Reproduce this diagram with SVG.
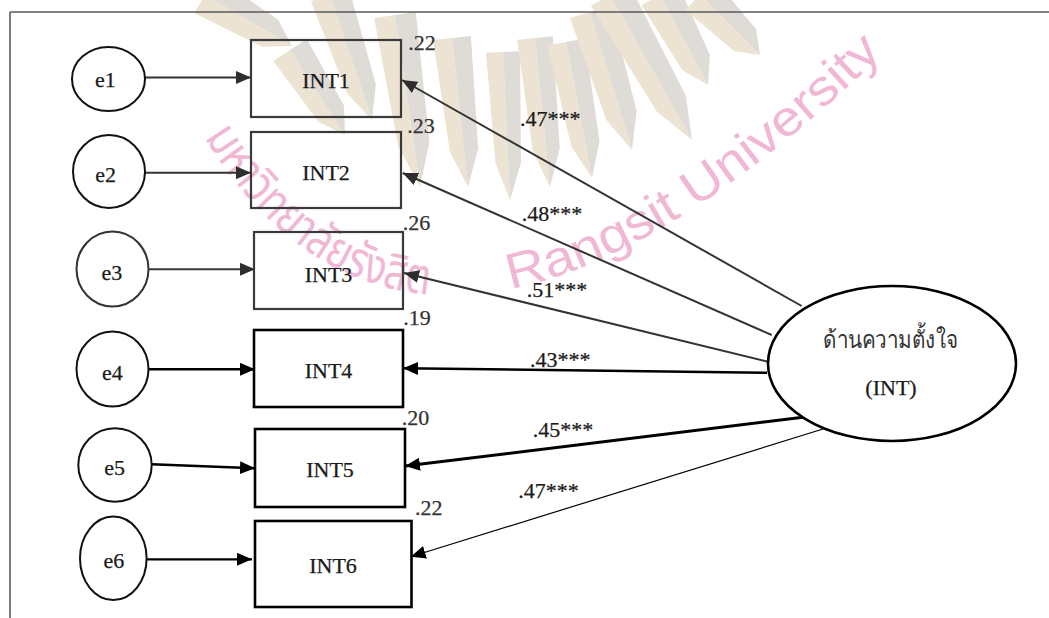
<svg xmlns="http://www.w3.org/2000/svg" width="1049" height="618" viewBox="0 0 1049 618">
  <defs>
    <style>
      .tx { font-family: "Liberation Serif", "Times New Roman", "DejaVu Serif", serif; }
      .lbl { font-size: 22px; fill: #1a1a1a; stroke: #1a1a1a; stroke-width: 0.25; }
      .est { font-size: 22px; fill: #333; stroke: #333; stroke-width: 0.25; }
      .box-g { fill: none; stroke: #3a3a3a; stroke-width: 2.2; }
      .box-k { fill: none; stroke: #000; stroke-width: 2.6; }
      .err { fill: #fff; stroke: #111; stroke-width: 2; }
      .wm-a { fill: #ece3d2; }
      .wm-b { fill: #dfdcd7; }
      .wm-t { font-family: "Liberation Sans", "Noto Sans Thai", "Noto Sans", sans-serif; font-size: 50px; fill: #f0b8d4; }
    </style>
    <marker id="ahGray" viewBox="0 0 15 13" markerUnits="userSpaceOnUse" markerWidth="15" markerHeight="13" refX="15" refY="6.5" orient="auto">
      <path d="M0,0 L15,6.5 L0,13 Z" fill="#2e2e2e"/>
    </marker>
    <marker id="ahBlack" viewBox="0 0 15 13" markerUnits="userSpaceOnUse" markerWidth="15" markerHeight="13" refX="15" refY="6.5" orient="auto">
      <path d="M0,0 L15,6.5 L0,13 Z" fill="#000"/>
    </marker>
    <path id="wmArc" d="M 195 122 C 330 357, 560 377, 905 32"/>
  </defs>

  <rect width="1049" height="618" fill="#fff"/>

  <!-- background emblem: bevelled sun rays and curved name -->
  <g id="watermark">
    <polygon class="wm-a" points="194.4,13.1 205,-5 292,46 262.3,46.8"/><polygon class="wm-b" points="205,-5 215.6,-23.1 278.2,19.7 292,46"/>
    <polygon class="wm-a" points="273.2,60.9 290,50 345,135 318.7,121.9"/><polygon class="wm-b" points="290,50 306.8,39.1 343.9,105.6 345,135"/>
    <polygon class="wm-a" points="311,1.4 330,-5 372,120 347.3,93.6"/><polygon class="wm-b" points="330,-5 349,-11.4 375.8,84 372,120"/>
    <polygon class="wm-a" points="374.2,18 395,15 420,187 398.2,146.3"/><polygon class="wm-b" points="395,15 415.8,12 429.4,141.8 420,187"/>
    <polygon class="wm-a" points="433.1,40 452,38 468,187 449.8,151.3"/><polygon class="wm-b" points="452,38 470.9,36 478.2,148.3 468,187"/>
    <polygon class="wm-a" points="486,52.8 503,52 510,200 495.5,163.6"/><polygon class="wm-b" points="503,52 520,51.2 521,162.4 510,200"/>
    <polygon class="wm-a" points="517.1,39.8 535,38 550,187 532.8,151.1"/><polygon class="wm-b" points="535,38 552.9,36.2 559.7,148.4 550,187"/>
    <polygon class="wm-a" points="547.3,45.6 566,42 592,178 571.5,146.7"/><polygon class="wm-b" points="566,42 584.7,38.4 599.5,141.3 592,178"/>
    <polygon class="wm-a" points="569.9,18.1 590,12 632,150 606.4,120.1"/><polygon class="wm-b" points="590,12 610.1,5.9 636.6,110.9 632,150"/>
    <polygon class="wm-a" points="590.9,5.8 610,-5 692,140 657.2,111.9"/><polygon class="wm-b" points="610,-5 629.1,-15.8 685.8,95.7 692,140"/>
    <polygon class="wm-a" points="641.5,4.9 660,-5 708,85 682.1,69.9"/><polygon class="wm-b" points="660,-5 678.5,-14.9 709.9,55.1 708,85"/>
    <polygon class="wm-a" points="685.2,9.8 700,-5 760,55 733.9,51.1"/><polygon class="wm-b" points="700,-5 714.8,-19.8 756.1,28.9 760,55"/>
    <text class="wm-t"><textPath href="#wmArc" startOffset="18" textLength="285" lengthAdjust="spacingAndGlyphs">มหาวิทยาลัยรังสิต</textPath></text>
    <text class="wm-t"><textPath href="#wmArc" startOffset="385" textLength="446" lengthAdjust="spacingAndGlyphs">Rangsit University</textPath></text>
  </g>

  <!-- page frame -->
  <g id="frame" fill="none" stroke="#5a5a5a" stroke-width="1.6">
    <line x1="10" y1="12" x2="1049" y2="12"/>
    <line x1="10" y1="12" x2="10" y2="618"/>
  </g>

  <!-- paths: errors to indicators, factor to indicators -->
  <g id="connectors" fill="none">
    <line x1="145" y1="77.5" x2="251" y2="77.5" stroke="#333" stroke-width="2" marker-end="url(#ahGray)"/>
    <line x1="145" y1="172.7" x2="251" y2="172.7" stroke="#333" stroke-width="2" marker-end="url(#ahGray)"/>
    <line x1="148.5" y1="269.3" x2="255" y2="269.3" stroke="#3a3a3a" stroke-width="2" marker-end="url(#ahGray)"/>
    <line x1="148.5" y1="369.3" x2="255" y2="369.3" stroke="#000" stroke-width="2.4" marker-end="url(#ahBlack)"/>
    <line x1="151.7" y1="464.3" x2="255" y2="468.3" stroke="#000" stroke-width="2.4" marker-end="url(#ahBlack)"/>
    <line x1="146.7" y1="559.3" x2="252" y2="559.3" stroke="#000" stroke-width="2.2" marker-end="url(#ahBlack)"/>

    <line x1="801.7" y1="306" x2="402" y2="80" stroke="#333" stroke-width="2" marker-end="url(#ahGray)"/>
    <line x1="771.7" y1="335" x2="402.7" y2="173" stroke="#333" stroke-width="2" marker-end="url(#ahGray)"/>
    <line x1="767.7" y1="361.7" x2="404" y2="273" stroke="#333" stroke-width="2" marker-end="url(#ahGray)"/>
    <line x1="767" y1="372.7" x2="403" y2="368.3" stroke="#000" stroke-width="2.5" marker-end="url(#ahBlack)"/>
    <line x1="803" y1="417.3" x2="405" y2="466" stroke="#000" stroke-width="3" marker-end="url(#ahBlack)"/>
    <line x1="823" y1="429" x2="410.7" y2="556.7" stroke="#000" stroke-width="1.2" marker-end="url(#ahBlack)"/>
  </g>

  <!-- path coefficients -->
  <g id="coefficients">
    <text class="tx lbl" x="520" y="126">.47***</text>
    <text class="tx lbl" x="521.7" y="220.7">.48***</text>
    <text class="tx lbl" x="526.7" y="296.7">.51***</text>
    <text class="tx lbl" x="530" y="367.3">.43***</text>
    <text class="tx lbl" x="532.7" y="437.3">.45***</text>
    <text class="tx lbl" x="518.3" y="498.3">.47***</text>
  </g>

  <!-- error terms -->
  <g id="e1"><ellipse class="err" cx="108.5" cy="79" rx="36.5" ry="32"/><text class="tx lbl" x="105.5" y="87.3" text-anchor="middle">e1</text></g>
  <g id="e2"><ellipse class="err" cx="109" cy="171.5" rx="36" ry="36.5"/><text class="tx lbl" x="105.7" y="181.7" text-anchor="middle">e2</text></g>
  <g id="e3"><ellipse class="err" cx="112.5" cy="269" rx="36" ry="37.5" style="stroke:#333"/><text class="tx lbl" x="112" y="280" text-anchor="middle">e3</text></g>
  <g id="e4"><ellipse class="err" cx="112.5" cy="369" rx="36" ry="37.5"/><text class="tx lbl" x="112.5" y="380" text-anchor="middle">e4</text></g>
  <g id="e5"><ellipse class="err" cx="115" cy="465" rx="36.7" ry="36.7"/><text class="tx lbl" x="114.7" y="475" text-anchor="middle">e5</text></g>
  <g id="e6"><ellipse class="err" cx="113.3" cy="558.3" rx="33.3" ry="41.7"/><text class="tx lbl" x="114" y="568.3" text-anchor="middle">e6</text></g>

  <!-- observed indicators -->
  <g id="INT1"><rect class="box-g" x="251" y="40" width="150" height="77"/><text class="tx lbl" x="326" y="88" text-anchor="middle">INT1</text><text class="tx est" x="408.3" y="50">.22</text></g>
  <g id="INT2"><rect class="box-g" x="251" y="132" width="150" height="76"/><text class="tx lbl" x="326" y="180" text-anchor="middle">INT2</text><text class="tx est" x="407.3" y="133.3">.23</text></g>
  <g id="INT3"><rect class="box-g" x="254" y="232" width="149" height="77"/><text class="tx lbl" x="328.5" y="281.5" text-anchor="middle">INT3</text><text class="tx est" x="402.7" y="230">.26</text></g>
  <g id="INT4"><rect class="box-k" x="254" y="330" width="149" height="77"/><text class="tx lbl" x="328.5" y="378.3" text-anchor="middle">INT4</text><text class="tx est" x="403.3" y="325">.19</text></g>
  <g id="INT5"><rect class="box-k" x="255" y="429" width="150" height="78"/><text class="tx lbl" x="330" y="477.3" text-anchor="middle">INT5</text><text class="tx est" x="401.7" y="425">.20</text></g>
  <g id="INT6"><rect class="box-k" x="255" y="521" width="156.5" height="86"/><text class="tx lbl" x="333" y="573.3" text-anchor="middle">INT6</text><text class="tx est" x="415" y="515">.22</text></g>

  <!-- latent factor -->
  <g id="INT">
    <ellipse cx="892" cy="363.5" rx="124" ry="77.5" fill="#fff" stroke="#000" stroke-width="2.6"/>
    <text class="tx" x="890.5" y="348" font-size="24" fill="#333" text-anchor="middle" textLength="135" lengthAdjust="spacingAndGlyphs">ด้านความตั้งใจ</text>
    <text class="tx lbl" x="891" y="395" text-anchor="middle">(INT)</text>
  </g>
</svg>
